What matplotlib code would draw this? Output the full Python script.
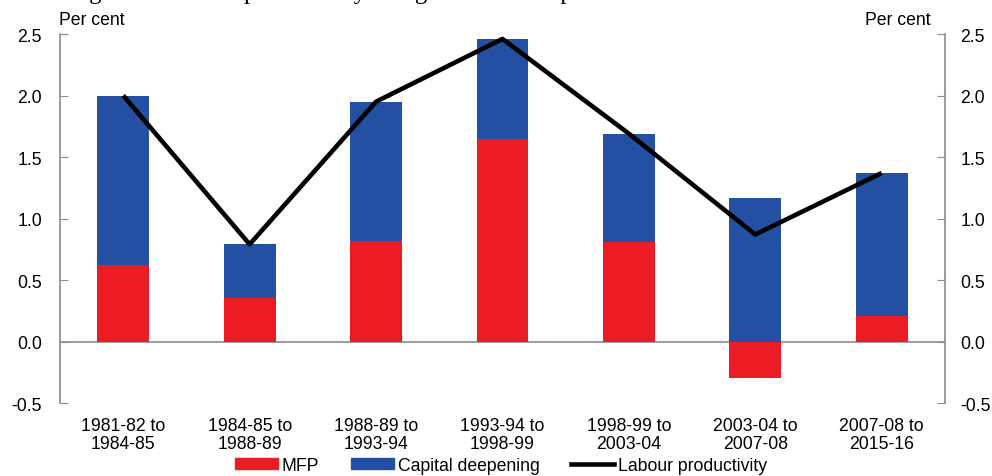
import matplotlib.pyplot as plt
import numpy as np
from matplotlib.patches import Patch
from matplotlib.lines import Line2D

plt.rcParams['font.family'] = ['Liberation Sans', 'DejaVu Sans']

periods = ['1981-82 to\n1984-85', '1984-85 to\n1988-89', '1988-89 to\n1993-94',
           '1993-94 to\n1998-99', '1998-99 to\n2003-04', '2003-04 to\n2007-08',
           '2007-08 to\n2015-16']
mfp = [0.62, 0.35, 0.82, 1.65, 0.81, -0.30, 0.21]
capital = [1.38, 0.44, 1.13, 0.81, 0.88, 1.17, 1.16]
labour = [2.00, 0.79, 1.95, 2.46, 1.69, 0.87, 1.37]

red = '#ec1c24'
blue = '#2350a2'
grey = '#8c8c8c'
fs = 12.7

fig = plt.figure(figsize=(9.92, 4.77), dpi=100)
ax = fig.add_axes([0.0605, 0.153, 0.892, 0.7736])

x = np.arange(len(periods))
w = 0.41
mfp = np.array(mfp)
capital = np.array(capital)
# capital deepening sits on top of positive MFP, from zero when MFP is negative
base = np.where(mfp > 0, mfp, 0)
ax.bar(x, mfp, w, color=red, zorder=2)
ax.bar(x, capital, w, bottom=base, color=blue, zorder=2)
ax.plot(x, labour, color='black', lw=3.3, zorder=3, solid_capstyle='butt')
ax.axhline(0, color=grey, lw=1.2, zorder=1)

ax.set_xlim(-0.5, 6.5)
ax.set_ylim(-0.5, 2.5)
yt = np.arange(-0.5, 2.51, 0.5)
ax.set_yticks(yt)
ax.set_yticklabels([f'{v:.1f}' for v in yt], fontsize=fs)
ax.tick_params(axis='y', direction='in', length=6, color=grey, pad=13)
ax.set_xticks(x)
ax.set_xticklabels(periods, fontsize=fs, linespacing=1.12)
ax.tick_params(axis='x', length=0, pad=10)
for s in ['top', 'bottom', 'right']:
    ax.spines[s].set_visible(False)
ax.spines['left'].set_color(grey)
ax.spines['left'].set_linewidth(1.2)

ax2 = ax.twinx()
ax2.set_ylim(-0.5, 2.5)
ax2.set_yticks(yt)
ax2.set_yticklabels([f'{v:.1f}' for v in yt], fontsize=fs)
ax2.tick_params(axis='y', direction='in', length=6, color=grey, pad=11)
for s in ['top', 'bottom', 'left']:
    ax2.spines[s].set_visible(False)
ax2.spines['right'].set_color(grey)
ax2.spines['right'].set_linewidth(1.2)

fig.text(0.059, 0.958, 'Per cent', fontsize=fs, ha='left', va='center')
fig.text(0.938, 0.958, 'Per cent', fontsize=fs, ha='right', va='center')

# page heading above the chart, only its descenders fall inside the image
fig.text(0.069, 1.003, 'Figure 2: Labour productivity and growth across periods',
         family='Liberation Serif', fontsize=18, ha='left', va='baseline')

handles = [Patch(color=red), Patch(color=blue), Line2D([], [], color='black', lw=3.3)]
fig.legend(handles, ['MFP', 'Capital deepening', 'Labour productivity'],
           loc='center', bbox_to_anchor=(0.505, 0.022), ncol=3, frameon=False,
           fontsize=fs, handlelength=2.45, handleheight=0.6, handletextpad=0.2,
           columnspacing=1.8, borderpad=0)

fig.savefig('out.png', dpi=100)
